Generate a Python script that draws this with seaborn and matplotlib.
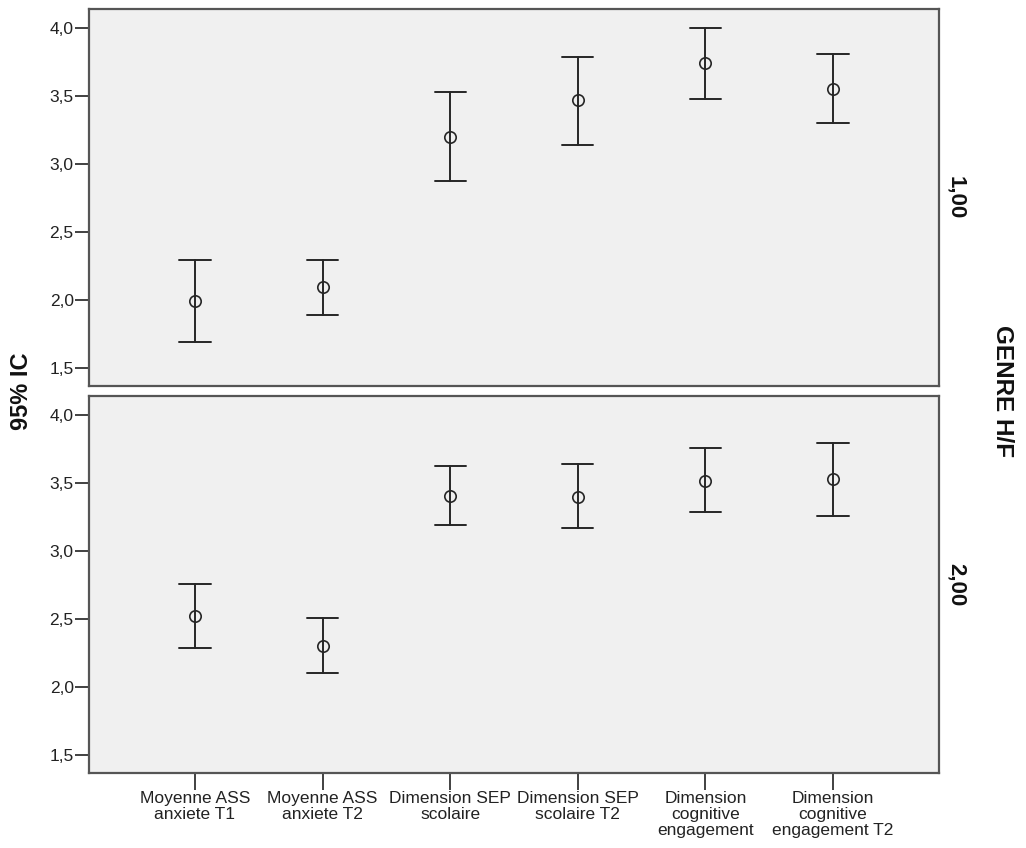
import matplotlib
matplotlib.use("Agg")
import matplotlib.pyplot as plt
import seaborn as sns
import pandas as pd

# ---- data ----
categories = [
    "Moyenne ASS\nanxiete T1",
    "Moyenne ASS\nanxiete T2",
    "Dimension SEP\nscolaire",
    "Dimension SEP\nscolaire T2",
    "Dimension\ncognitive\nengagement",
    "Dimension\ncognitive\nengagement T2",
]
genres = ["1,00", "2,00"]

mean_g1 = [1.99, 2.09, 3.20, 3.47, 3.74, 3.55]
lower_g1 = [1.69, 1.89, 2.87, 3.14, 3.48, 3.30]
upper_g1 = [2.29, 2.29, 3.53, 3.79, 4.00, 3.81]

mean_g2 = [2.52, 2.30, 3.41, 3.40, 3.52, 3.53]
lower_g2 = [2.29, 2.10, 3.19, 3.17, 3.29, 3.26]
upper_g2 = [2.76, 2.51, 3.63, 3.64, 3.76, 3.80]

yticks = [1.5, 2.0, 2.5, 3.0, 3.5, 4.0]
ytick_labels = ["1,5", "2,0", "2,5", "3,0", "3,5", "4,0"]

y_label = "95% IC"
row_label = "GENRE H/F"

# ---- long table: lower / mean / upper per cell; median = mean, 100% interval = CI ----
rows = []
for g, lo, me, up in [(genres[0], lower_g1, mean_g1, upper_g1),
                      (genres[1], lower_g2, mean_g2, upper_g2)]:
    for c, a, b, d in zip(categories, lo, me, up):
        for v in (a, b, d):
            rows.append({"genre": g, "variable": c, "value": v})
df = pd.DataFrame(rows)

sns.set_style("white")
plt.rcParams["font.family"] = ["Liberation Sans", "DejaVu Sans"]

line_col = "#262626"
g = sns.catplot(
    data=df, x="variable", y="value", row="genre",
    kind="point", order=categories, row_order=genres,
    estimator="median", errorbar=("pi", 100),
    capsize=0.245, color=line_col, marker="o", linestyle="none",
    markersize=8.2, markeredgewidth=1.2,
    err_kws={"linewidth": 1.4},
    height=4, aspect=2.5, sharex=True, sharey=True,
)
fig = g.figure
fig.set_size_inches(10.26, 8.48)
fig.subplots_adjust(left=89 / 1026, right=939 / 1026,
                    top=1 - 9 / 848, bottom=1 - 773.3 / 848, hspace=0.028)
g.set_titles("")
g.set_axis_labels("", "")

frame_col = "#555555"
tick_fs = 12.5
for i, ax in enumerate(g.axes.flat):
    ax.set_facecolor("#F0F0F0")
    ax.set_xlim(-0.83, 5.83)
    ax.set_ylim(1.365, 4.14)
    ax.set_yticks(yticks)
    ax.set_yticklabels(ytick_labels, fontsize=tick_fs, color="#222222")
    for s in ax.spines.values():
        s.set_visible(True)
        s.set_color(frame_col)
        s.set_linewidth(1.6)
    ax.tick_params(axis="y", direction="out", length=10, width=1.3,
                   color="#333333", pad=1, left=True)
    for ln in ax.lines:
        if ln.get_marker() == "o":
            ln.set_markerfacecolor("none")
            ln.set_markeredgecolor(line_col)
            ln.set_zorder(4)
    ax.text(1.0 + 17 / 850, 0.5, genres[i], transform=ax.transAxes,
            rotation=270, ha="center", va="center",
            fontsize=16, fontweight="bold", color="#111111")
    if i == 0:
        ax.tick_params(axis="x", bottom=False, labelbottom=False)
    else:
        ax.tick_params(axis="x", direction="out", length=12, width=1.3,
                       color="#333333", bottom=True, pad=1)
        ax.set_xticks(range(len(categories)))
        ax.set_xticklabels(categories, fontsize=tick_fs, color="#222222",
                           linespacing=1.08)

fig.text(22 / 1026, 1 - 391 / 848, y_label, rotation=90, ha="center", va="center",
         fontsize=17, fontweight="bold", color="#111111")
fig.text(1002 / 1026, 1 - 391 / 848, row_label, rotation=270, ha="center", va="center",
         fontsize=17.5, fontweight="bold", color="#111111")

fig.savefig("out.png", dpi=100, facecolor="white")
